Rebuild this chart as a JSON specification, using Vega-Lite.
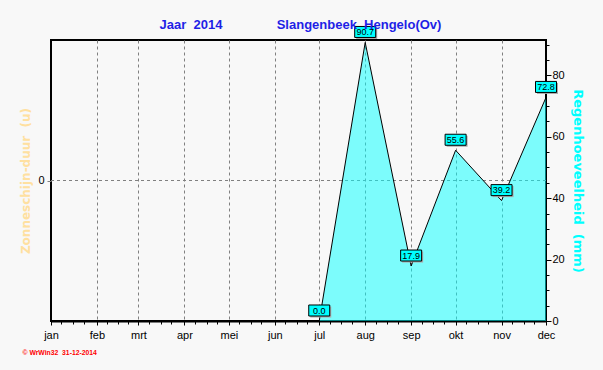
{
  "$schema": "https://vega.github.io/schema/vega-lite/v6.json",
  "width": 495,
  "height": 281,
  "autosize": {"type": "none"},
  "padding": {"left": 51, "top": 40, "right": 57, "bottom": 49},
  "background": "#f8f8f8",
  "config": {"view": {"stroke": "#000", "strokeWidth": 2, "fill": "#f8f8f8"}, "font": "Liberation Sans"},
  "title": {
    "text": "Jaar\u00a0\u00a02014\u00a0\u00a0\u00a0\u00a0\u00a0\u00a0\u00a0\u00a0\u00a0\u00a0\u00a0\u00a0\u00a0\u00a0\u00a0Slangenbeek\u00a0\u00a0Hengelo(Ov)",
    "color": "#1f1fe6", "fontSize": 13, "fontWeight": "bold", "font": "Liberation Sans",
    "anchor": "middle", "baseline": "alphabetic", "offset": 10, "dx": 2, "dy": 28
  },
  "data": {"values": [
    {"month": "2014-07-01T00:00:00", "rain": 0.0},
    {"month": "2014-08-01T00:00:00", "rain": 90.7},
    {"month": "2014-09-01T00:00:00", "rain": 17.9},
    {"month": "2014-10-01T00:00:00", "rain": 55.6},
    {"month": "2014-11-01T00:00:00", "rain": 39.2},
    {"month": "2014-12-01T00:00:00", "rain": 72.8}
  ]},
  "layer": [
    {
      "mark": {"type": "rule", "color": "#808080", "strokeDash": [3, 3], "strokeWidth": 1},
      "encoding": {
        "y": {"datum": 0, "type": "quantitative", "scale": {"domain": [-1, 1], "nice": false},
          "axis": {"orient": "left", "values": [0], "tickSize": 4, "tickColor": "#808080", "domain": false, "grid": false,
            "labelFontSize": 11, "labelPadding": 3, "labelColor": "#000",
            "title": "Zonneschijn-duur\u00a0\u00a0(u)", "titleColor": "#ffe0a0", "titleFont": "DejaVu Sans", "titleFontSize": 12, "titleFontWeight": "bold", "titlePadding": 5}}
      }
    },
    {
      "mark": {"type": "area", "fill": "#00ffff", "fillOpacity": 0.5, "line": {"color": "#000", "strokeWidth": 1}},
      "encoding": {
        "x": {"field": "month", "type": "temporal",
          "scale": {"domain": [{"year": 2014, "month": 1, "date": 1}, {"year": 2014, "month": 12, "date": 1}]},
          "axis": {"orient": "bottom",
            "values": [{"year": 2014, "month": 1, "date": 1}, {"year": 2014, "month": 2, "date": 1}, {"year": 2014, "month": 3, "date": 1}, {"year": 2014, "month": 4, "date": 1}, {"year": 2014, "month": 5, "date": 1}, {"year": 2014, "month": 6, "date": 1}, {"year": 2014, "month": 7, "date": 1}, {"year": 2014, "month": 8, "date": 1}, {"year": 2014, "month": 9, "date": 1}, {"year": 2014, "month": 10, "date": 1}, {"year": 2014, "month": 11, "date": 1}, {"year": 2014, "month": 12, "date": 1}],
            "labelExpr": "['jan','feb','mrt','apr','mei','jun','jul','aug','sep','okt','nov','dec'][month(datum.value)]",
            "grid": true, "gridColor": "#808080", "gridDash": [3, 3], "gridWidth": 1,
            "gridOpacity": {"condition": {"test": "month(datum.value) == 0 || month(datum.value) == 11", "value": 0}, "value": 1},
            "domainColor": "#000", "domainWidth": 2, "tickColor": "#000", "tickSize": 4,
            "labelColor": "#000", "labelFontSize": 11, "labelPadding": 4, "labelFlush": false, "labelOverlap": false,
            "title": "\u00a9 WrWin32\u00a0\u00a031-12-2014", "titleColor": "#ff0000", "titleFontSize": 6.8, "titleFontWeight": "bold",
            "titleAnchor": "start", "titleAlign": "left", "titleX": -29, "titleY": 33, "titleBaseline": "alphabetic"}},
        "y": {"field": "rain", "type": "quantitative", "scale": {"domain": [0, 91.5], "nice": false},
          "axis": {"orient": "right", "values": [0, 20, 40, 60, 80], "tickSize": 5, "tickColor": "#000", "domain": false, "grid": false,
            "labelFontSize": 11, "labelColor": "#000", "labelPadding": 1,
            "title": "Regenhoeveelheid\u00a0\u00a0(mm)", "titleColor": "#00ffff", "titleFont": "DejaVu Sans", "titleFontSize": 13, "titleFontWeight": "bold", "titleAngle": 90, "titlePadding": 6}}
      }
    },
    {
      "mark": {"type": "point", "opacity": 0},
      "encoding": {
        "x": {"field": "month", "type": "temporal",
          "scale": {"domain": [{"year": 2014, "month": 1, "date": 1}, {"year": 2014, "month": 12, "date": 1}]},
          "axis": {"orient": "bottom", "labels": false, "grid": false, "domain": false, "tickSize": 3, "tickColor": "#000", "title": null,
            "values": [
              {"year": 2014, "month": 1, "date": 8}, {"year": 2014, "month": 1, "date": 16}, {"year": 2014, "month": 1, "date": 23},
              {"year": 2014, "month": 2, "date": 8}, {"year": 2014, "month": 2, "date": 15}, {"year": 2014, "month": 2, "date": 22},
              {"year": 2014, "month": 3, "date": 8}, {"year": 2014, "month": 3, "date": 16}, {"year": 2014, "month": 3, "date": 23},
              {"year": 2014, "month": 4, "date": 8}, {"year": 2014, "month": 4, "date": 16}, {"year": 2014, "month": 4, "date": 23},
              {"year": 2014, "month": 5, "date": 8}, {"year": 2014, "month": 5, "date": 16}, {"year": 2014, "month": 5, "date": 23},
              {"year": 2014, "month": 6, "date": 8}, {"year": 2014, "month": 6, "date": 16}, {"year": 2014, "month": 6, "date": 23},
              {"year": 2014, "month": 7, "date": 8}, {"year": 2014, "month": 7, "date": 16}, {"year": 2014, "month": 7, "date": 23},
              {"year": 2014, "month": 8, "date": 8}, {"year": 2014, "month": 8, "date": 16}, {"year": 2014, "month": 8, "date": 23},
              {"year": 2014, "month": 9, "date": 8}, {"year": 2014, "month": 9, "date": 16}, {"year": 2014, "month": 9, "date": 23},
              {"year": 2014, "month": 10, "date": 8}, {"year": 2014, "month": 10, "date": 16}, {"year": 2014, "month": 10, "date": 23},
              {"year": 2014, "month": 11, "date": 8}, {"year": 2014, "month": 11, "date": 16}, {"year": 2014, "month": 11, "date": 23}
            ]}},
        "y": {"field": "rain", "type": "quantitative", "scale": {"domain": [0, 91.5], "nice": false},
          "axis": {"orient": "right", "values": [5, 10, 15, 25, 30, 35, 45, 50, 55, 65, 70, 75, 85, 90],
            "labels": false, "grid": false, "domain": false, "tickSize": 3, "tickColor": "#000", "title": null}}
      }
    },
    {
      "encoding": {
        "x": {"field": "month", "type": "temporal",
          "scale": {"domain": [{"year": 2014, "month": 1, "date": 1}, {"year": 2014, "month": 12, "date": 1}]}, "axis": null},
        "y": {"field": "rain", "type": "quantitative", "scale": {"domain": [0, 91.5], "nice": false}, "axis": null}
      },
      "layer": [
        {"mark": {"type": "point", "shape": "M -0.857 -1.381 H 1.143 V -0.333 H -0.857 Z", "size": 441, "filled": true, "fill": "#a8a8a8", "strokeWidth": 0, "opacity": 1}},
        {"mark": {"type": "point", "shape": "M -1 -1.524 H 1 V -0.476 H -1 Z", "size": 441, "filled": true, "fill": "#00ffff", "stroke": "#000", "strokeWidth": 1, "opacity": 1}},
        {"mark": {"type": "text", "dy": -10.5, "baseline": "middle", "align": "center", "fontSize": 9, "color": "#000"},
          "encoding": {"text": {"field": "rain", "type": "quantitative", "format": ".1f"}}}
      ]
    }
  ],
  "resolve": {"scale": {"x": "independent", "y": "independent"}, "axis": {"x": "independent", "y": "independent"}}
}
